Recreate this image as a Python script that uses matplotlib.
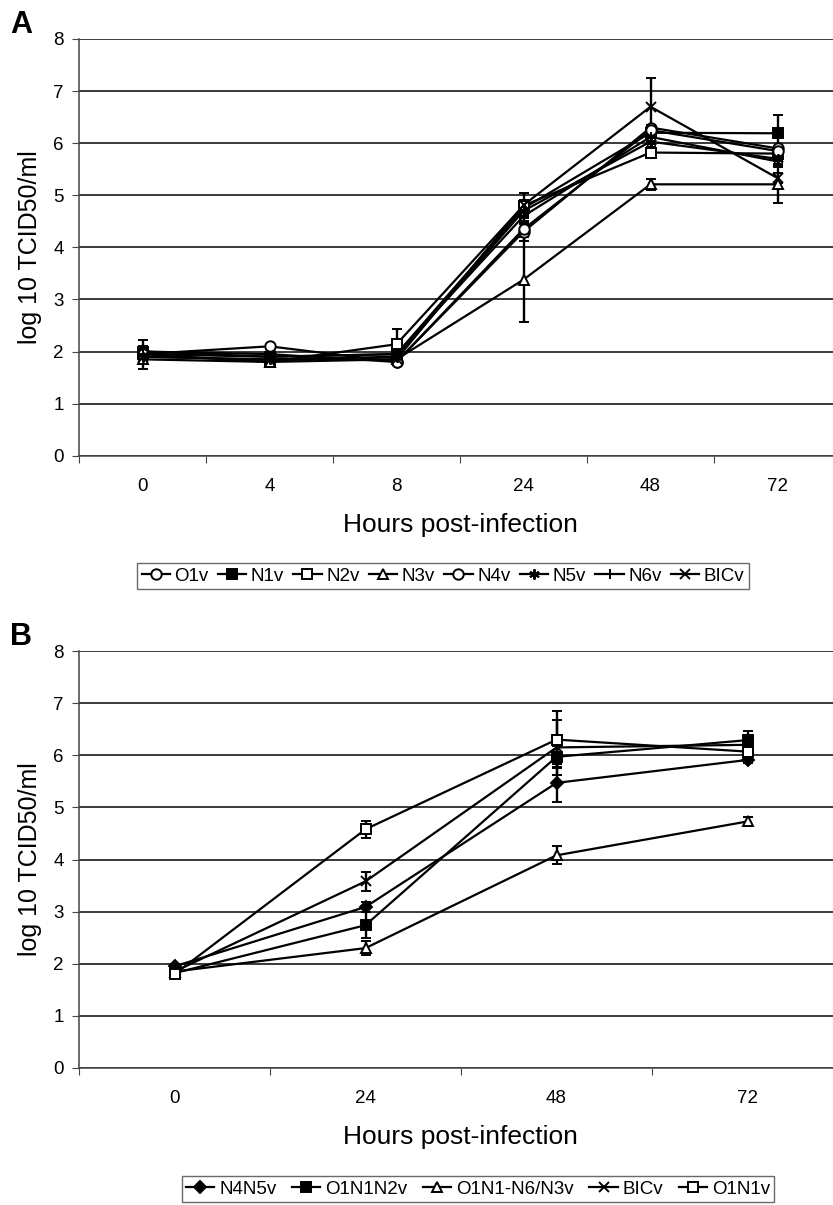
import matplotlib
matplotlib.use("Agg")
import matplotlib.pyplot as plt
import numpy as np

plt.rcParams['font.family'] = ['Liberation Sans', 'DejaVu Sans']

# ---- Panel A data ----
hours_a = ["0", "4", "8", "24", "48", "72"]
series_a = ["O1v", "N1v", "N2v", "N3v", "N4v", "N5v", "N6v", "BICv"]
o1v = [2.00, 1.95, 1.80, 4.30, 6.30, 5.90]
n1v = [2.00, 1.90, 1.95, 4.75, 6.20, 6.19]
n2v = [1.95, 1.80, 2.14, 4.80, 5.82, 5.80]
n3v = [1.85, 1.80, 1.85, 3.38, 5.21, 5.21]
n4v = [1.95, 2.10, 1.80, 4.35, 6.25, 5.85]
n5v = [1.90, 1.85, 1.90, 4.70, 6.03, 5.70]
n6v = [1.95, 1.90, 1.95, 4.60, 6.12, 5.65]
bicv_a = [1.90, 1.84, 1.85, 4.81, 6.70, 5.33]
err_o1v = [0.10, 0.05, 0.05, 0.17, 0.05, 0.05]
err_n1v = [0.05, 0.05, 0.05, 0.10, 0.05, 0.35]
err_n2v = [0.28, 0.05, 0.29, 0.10, 0.05, 0.05]
err_n3v = [0.05, 0.05, 0.05, 0.82, 0.10, 0.35]
err_n4v = [0.05, 0.05, 0.05, 0.10, 0.05, 0.10]
err_n5v = [0.05, 0.05, 0.05, 0.10, 0.10, 0.10]
err_n6v = [0.05, 0.05, 0.05, 0.10, 0.10, 0.10]
err_bicv_a = [0.05, 0.05, 0.05, 0.24, 0.55, 0.10]

# ---- Panel B data ----
hours_b = ["0", "24", "48", "72"]
series_b = ["N4N5v", "O1N1N2v", "O1N1-N6/N3v", "BICv", "O1N1v"]
n4n5v = [1.95, 3.09, 5.47, 5.91]
o1n1n2v = [1.82, 2.74, 5.97, 6.29]
o1n1n6n3v = [1.85, 2.30, 4.08, 4.73]
bicv_b = [1.85, 3.58, 6.15, 6.20]
o1n1v = [1.80, 4.58, 6.30, 6.07]
err_n4n5v = [0.05, 0.10, 0.36, 0.05]
err_o1n1n2v = [0.05, 0.25, 0.20, 0.17]
err_o1n1n6n3v = [0.05, 0.14, 0.17, 0.09]
err_bicv_b = [0.05, 0.18, 0.52, 0.10]
err_o1n1v = [0.05, 0.16, 0.54, 0.10]

W, H = 833, 1205
fig = plt.figure(figsize=(W / 100, H / 100), dpi=100)

def px(x0, y_top, x1, y_bot):
    return [x0 / W, 1 - y_bot / H, (x1 - x0) / W, (y_bot - y_top) / H]

def style_axes(ax, ncat):
    ax.set_ylim(0, 8)
    ax.set_xlim(-0.5, ncat - 0.5)
    ax.set_yticks(range(0, 9))
    ax.yaxis.grid(True, color='#2a2a2a', linewidth=1.3)
    ax.set_axisbelow(True)
    for s in ['top', 'right']:
        ax.spines[s].set_visible(False)
    for s in ['left', 'bottom']:
        ax.spines[s].set_color('#444444')
        ax.spines[s].set_linewidth(1.1)
    ax.tick_params(axis='y', direction='out', length=5, color='#444444',
                   labelsize=13.5, pad=6)
    ax.set_xticks(np.arange(-0.5, ncat, 1.0), minor=False)
    ax.set_xticklabels([])
    ax.tick_params(axis='x', which='major', direction='out', length=5,
                   color='#444444')
    ax.tick_params(axis='x', which='minor', length=0, labelsize=13.5, pad=16)
    ax.set_ylabel("log 10 TCID50/ml", fontsize=18, labelpad=8)

kw = dict(color='black', linewidth=1.6, elinewidth=1.7, capsize=3.5,
          capthick=1.7, markersize=7.5, markeredgewidth=1.4)

def legend(handles, labels, cx, cy, ncol, colsp):
    lg = fig.legend(handles=handles, labels=labels, loc='center',
                    bbox_to_anchor=(cx / W, 1 - cy / H), ncol=ncol,
                    fontsize=13.5, frameon=True, fancybox=False,
                    edgecolor='#444444', handlelength=1.5, handletextpad=0.25,
                    columnspacing=colsp, borderpad=0.25, borderaxespad=0)
    lg.get_frame().set_linewidth(1.0)
    return lg

# ---- Panel A ----
axA = fig.add_axes(px(79, 39, 841, 455.7))
xa = np.arange(len(hours_a))
style_axes(axA, len(hours_a))
axA.set_xticks(xa, minor=True)
axA.set_xticklabels(hours_a, minor=True)
a_vals = [o1v, n1v, n2v, n3v, n4v, n5v, n6v, bicv_a]
a_errs = [err_o1v, err_n1v, err_n2v, err_n3v, err_n4v, err_n5v, err_n6v, err_bicv_a]
a_mk = [('o', 'white'), ('s', 'black'), ('s', 'white'), ('^', 'white'),
        ('o', 'white'), ((6, 2, 0), 'black'), ('+', 'black'), ('x', 'black')]
handlesA = []
for name, v, e, (m, fc) in zip(series_a, a_vals, a_errs, a_mk):
    h = axA.errorbar(xa, v, yerr=e, marker=m, markerfacecolor=fc,
                     markeredgecolor='black', label=name, **kw)
    handlesA.append(h[0])
legend(handlesA, series_a, 443, 576, 8, 0.5)
fig.text(460 / W, 1 - 525 / H, "Hours post-infection", fontsize=19,
         ha='center', va='center')
fig.text(10 / W, 1 - 25 / H, "A", fontsize=22, fontweight='bold',
         ha='left', va='center')

# ---- Panel B ----
axB = fig.add_axes(px(79, 651, 843, 1068))
xb = np.arange(len(hours_b))
style_axes(axB, len(hours_b))
axB.set_xticks(xb, minor=True)
axB.set_xticklabels(hours_b, minor=True)
b_vals = [n4n5v, o1n1n2v, o1n1n6n3v, bicv_b, o1n1v]
b_errs = [err_n4n5v, err_o1n1n2v, err_o1n1n6n3v, err_bicv_b, err_o1n1v]
b_mk = [('D', 'black'), ('s', 'black'), ('^', 'white'), ('x', 'black'),
        ('s', 'white')]
handlesB = []
for name, v, e, (m, fc) in zip(series_b, b_vals, b_errs, b_mk):
    kwb = dict(kw)
    kwb['markersize'] = 6.5 if m == 'D' else 7.5
    h = axB.errorbar(xb, v, yerr=e, marker=m, markerfacecolor=fc,
                     markeredgecolor='black', label=name, **kwb)
    handlesB.append(h[0])
legend(handlesB, series_b, 478, 1189, 5, 0.85)
fig.text(460 / W, 1 - 1137 / H, "Hours post-infection", fontsize=19,
         ha='center', va='center')
fig.text(10 / W, 1 - 637 / H, "B", fontsize=22, fontweight='bold',
         ha='left', va='center')

fig.savefig("out.png", dpi=100)
